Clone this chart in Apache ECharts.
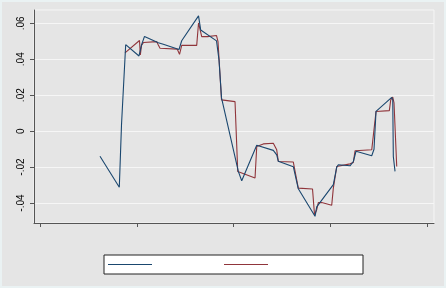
<!DOCTYPE html>
<html><head><meta charset="utf-8">
<script src="https://cdn.jsdelivr.net/npm/echarts@6/dist/echarts.min.js"></script>
<style>html,body{margin:0;padding:0;background:#e5e5e5}#c{width:446px;height:288px}</style>
</head><body><div id="c"></div>
<script>
// Tick values and labels
var xTickValues = [0, 25, 50, 75, 100];
var yTickValues = [-0.04, -0.02, 0, 0.02, 0.04, 0.06];
var yTickLabels = ['-.04', '-.02', '0', '.02', '.04', '.06'];

// Series 1 (navy line)
var s1X = [15.50, 20.49, 21.06, 22.14, 25.58, 26.23, 27.00, 30.57, 31.86, 35.92, 36.61, 40.96, 41.52, 41.78, 45.61, 46.25, 46.90, 51.24, 52.12, 56.00, 60.28, 61.16, 61.58, 65.45, 66.74, 71.06, 71.50, 75.79, 76.67, 77.08, 80.10, 80.96, 81.65, 85.71, 86.30, 86.82, 90.88, 91.14, 91.29, 91.73];
var s1Y = [-0.0140, -0.0312, 0.0035, 0.0481, 0.0418, 0.0479, 0.0527, 0.0492, 0.0483, 0.0454, 0.0503, 0.0641, 0.0563, 0.0574, 0.0502, 0.0396, 0.0185, -0.0224, -0.0276, -0.0079, -0.0107, -0.0132, -0.0168, -0.0198, -0.0321, -0.0474, -0.0421, -0.0298, -0.0200, -0.0187, -0.0193, -0.0169, -0.0112, -0.0137, -0.0101, 0.0110, 0.0188, 0.0174, -0.0141, -0.0224];

// Series 2 (maroon line)
var s2X = [21.96, 25.71, 25.92, 26.23, 26.74, 30.16, 30.57, 31.01, 35.48, 36.05, 36.61, 40.49, 40.96, 41.34, 41.78, 43.28, 43.49, 45.61, 45.99, 46.90, 50.39, 51.09, 55.56, 56.00, 57.70, 60.28, 61.16, 61.58, 65.45, 66.74, 70.41, 70.93, 71.50, 71.91, 72.79, 75.37, 75.79, 76.67, 77.08, 80.10, 80.96, 81.40, 85.71, 86.82, 90.26, 90.62, 91.14, 91.47, 92.17];
var s2Y = [0.0435, 0.0504, 0.0424, 0.0477, 0.0493, 0.0498, 0.0479, 0.0461, 0.0456, 0.0427, 0.0477, 0.0477, 0.0602, 0.0603, 0.0526, 0.0526, 0.0535, 0.0532, 0.0498, 0.0174, 0.0164, -0.0224, -0.0261, -0.0086, -0.0071, -0.0067, -0.0104, -0.0169, -0.0172, -0.0317, -0.0322, -0.0465, -0.0437, -0.0398, -0.0397, -0.0412, -0.0317, -0.0197, -0.0187, -0.0182, -0.0174, -0.0109, -0.0104, 0.0109, 0.0114, 0.0174, 0.0189, 0.0157, -0.0197];

function zip(a, b) { return a.map(function (v, i) { return [v, b[i]]; }); }

var chart = echarts.init(document.getElementById('c'), null, {renderer: 'canvas'});
chart.setOption({
  backgroundColor: '#e5e5e5',
  animation: false,
  grid: { left: 34, right: 12, top: 10, bottom: 65, show: true, backgroundColor: '#e5e5e5', borderColor: '#f6f6f6', borderWidth: 1 },
  xAxis: {
    type: 'value', min: -1.55, max: 101.8,
    axisLine: { show: true, onZero: false, lineStyle: { color: '#555', width: 1 } },
    axisTick: { show: true, length: 4, customValues: xTickValues, lineStyle: { color: '#555' } },
    axisLabel: { show: false },
    splitLine: { show: false }
  },
  yAxis: {
    type: 'value', min: -0.05111, max: 0.06739,
    axisLine: { show: true, onZero: false, lineStyle: { color: '#555', width: 1 } },
    axisTick: { show: true, length: 4, customValues: yTickValues, lineStyle: { color: '#555' } },
    axisLabel: {
      show: true, customValues: yTickValues, rotate: 90, margin: 8,
      fontFamily: 'Liberation Sans, Arial, sans-serif', fontSize: 10, color: '#000',
      formatter: function (v) { var i = yTickValues.findIndex(function (t) { return Math.abs(t - v) < 1e-9; }); return i >= 0 ? yTickLabels[i] : ''; }
    },
    splitLine: { show: true, lineStyle: { color: '#f6f6f6', width: 1 } }
  },
  legend: {
    left: 104, top: 255, orient: 'horizontal',
    itemWidth: 44, itemHeight: 1, itemGap: 72,
    padding: [9, 95, 9, 4],
    backgroundColor: '#ffffff', borderColor: '#222', borderWidth: 1, borderRadius: 0,
    formatter: function () { return ''; },
    data: [{ name: 's1', icon: 'rect' }, { name: 's2', icon: 'rect' }]
  },
  graphic: [{ type: 'rect', silent: true, z: 100, shape: { x: 1, y: 1, width: 444, height: 286 }, style: { fill: 'none', stroke: '#eaf2f3', lineWidth: 2 } }],
  series: [
    { name: 's1', type: 'line', data: zip(s1X, s1Y), symbol: 'none', showSymbol: false, z: 3,
      lineStyle: { color: '#1a476f', width: 1.1 }, itemStyle: { color: '#1a476f' } },
    { name: 's2', type: 'line', data: zip(s2X, s2Y), symbol: 'none', showSymbol: false, z: 2,
      lineStyle: { color: '#90353b', width: 1.1 }, itemStyle: { color: '#90353b' } }
  ]
});
</script></body></html>
